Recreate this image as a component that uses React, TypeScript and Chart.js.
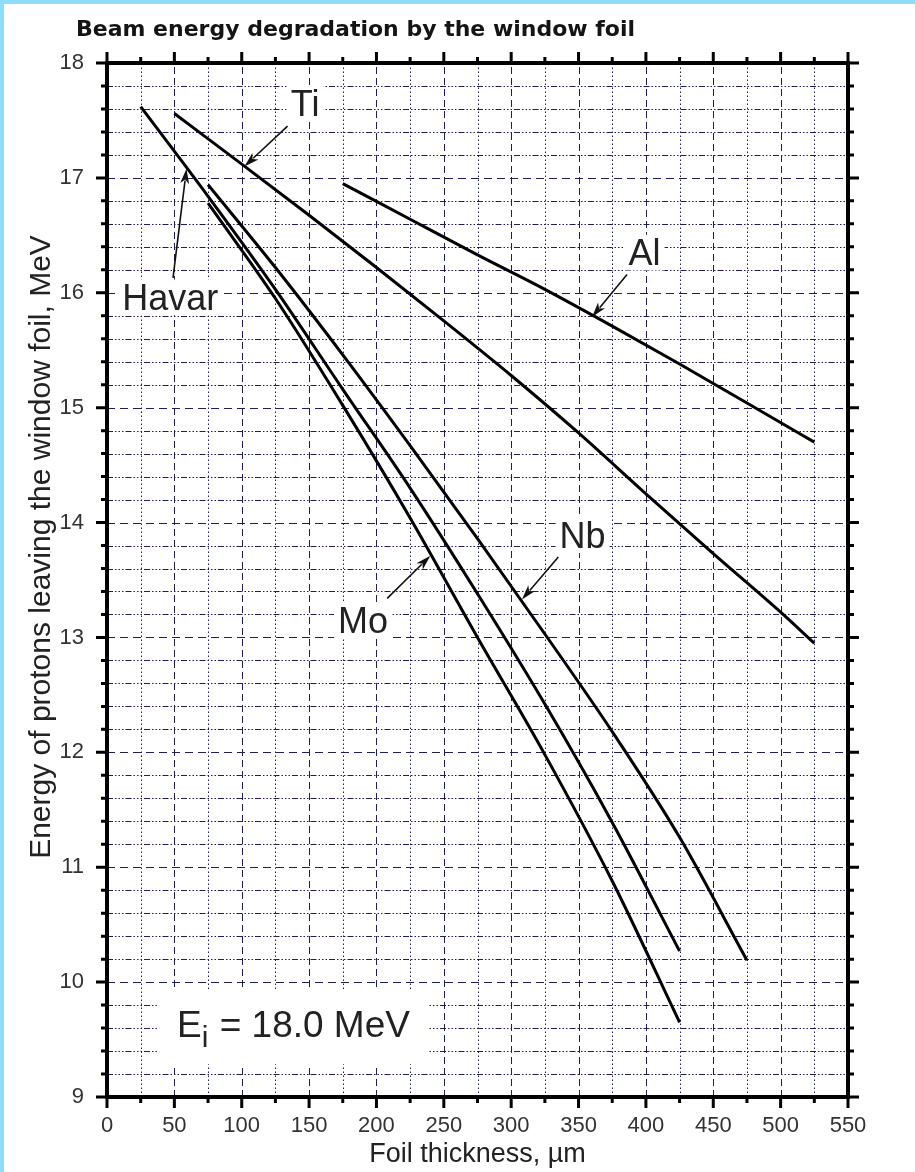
import React, { useEffect, useRef } from 'react';
import { Chart, registerables } from 'chart.js';

Chart.register(...registerables);

// ---- data (foil thickness in µm, exit energy in MeV) ----
const thicknessHavar = [25, 75, 125, 175, 225, 275, 325, 375, 425];
const energyHavar = [17.62, 16.84, 16.03, 15.16, 14.3, 13.38, 12.42, 11.39, 10.27];

const thicknessTi = [50, 100, 150, 200, 250, 300, 350, 400, 450, 500, 525];
const energyTi = [17.56, 17.12, 16.675, 16.22, 15.755, 15.28, 14.78, 14.25, 13.73, 13.22, 12.95];

const thicknessAl = [175, 225, 275, 325, 375, 425, 475, 525];
const energyAl = [16.95, 16.64, 16.33, 16.03, 15.71, 15.38, 15.04, 14.7];

const thicknessNb = [75, 125, 175, 225, 275, 325, 375, 425, 475];
const energyNb = [16.94, 16.22, 15.46, 14.67, 13.86, 13.03, 12.18, 11.26, 10.19];

const thicknessMo = [75, 125, 175, 225, 275, 325, 375, 425];
const energyMo = [16.78, 15.95, 15.02, 14.04, 13.0, 11.98, 10.88, 9.65];

// curve labels (data coordinates) and their arrows
const labelNames = ['Ti', 'Havar', 'Al', 'Nb', 'Mo'];
const labelThickness = [147, 47, 399, 353, 190];
const labelEnergy = [17.65, 15.96, 16.35, 13.89, 13.15];
const arrowFromThickness = [134, 49, 386, 335, 208];
const arrowFromEnergy = [17.45, 16.13, 16.16, 13.7, 13.34];
const arrowToThickness = [102, 59, 360, 308, 240];
const arrowToEnergy = [17.1, 17.08, 15.79, 13.33, 13.71];

const noteThickness = 52;
const noteEnergy = 9.52;
const noteMain = 'E';
const noteSub = 'i';
const noteRest = ' = 18.0 MeV';

const chartTitle = 'Beam energy degradation by the window foil';
const xTitle = 'Foil thickness, µm';
const yTitle = 'Energy of protons leaving the window foil, MeV';
const xMin = 0;
const xMax = 550;
const xStep = 25;
const xLabelStep = 50;
const yMin = 9;
const yMax = 18;
const yStep = 0.2;

const FONT = '"Liberation Sans", Arial, sans-serif';
const GRID = '#1f1f58';

const isInt = (v: number) => Math.abs(v - Math.round(v)) < 1e-6;
const isXMajor = (v: number) => Math.abs(v / xLabelStep - Math.round(v / xLabelStep)) < 1e-6;

function drawArrow(ctx: CanvasRenderingContext2D, x1: number, y1: number, x2: number, y2: number) {
  const ang = Math.atan2(y2 - y1, x2 - x1);
  const headLen = 15;
  const headW = 4.5;
  const c = Math.cos(ang);
  const s = Math.sin(ang);
  const bx = x2 - headLen * c;
  const by = y2 - headLen * s;
  ctx.save();
  ctx.strokeStyle = '#111';
  ctx.fillStyle = '#111';
  ctx.lineWidth = 1.6;
  ctx.setLineDash([]);
  ctx.beginPath();
  ctx.moveTo(x1, y1);
  ctx.lineTo(bx + 3 * c, by + 3 * s);
  ctx.stroke();
  ctx.beginPath();
  ctx.moveTo(x2, y2);
  ctx.lineTo(bx - headW * s, by + headW * c);
  ctx.lineTo(bx + 4 * c, by + 4 * s);
  ctx.lineTo(bx + headW * s, by - headW * c);
  ctx.closePath();
  ctx.fill();
  ctx.restore();
}

const decorPlugin = {
  id: 'decor',
  beforeDatasetsDraw(chart: any) {
    const { ctx, chartArea: a } = chart;
    const xs = chart.scales.x;
    const ys = chart.scales.y;
    ctx.save();
    ctx.lineWidth = 1;
    ctx.strokeStyle = GRID;
    // vertical grid
    xs.ticks.forEach((t: any) => {
      const px = Math.round(xs.getPixelForValue(t.value)) + 0.5;
      ctx.setLineDash(isXMajor(t.value) ? [7, 4] : [1.5, 2.5]);
      ctx.beginPath();
      ctx.moveTo(px, a.bottom);
      ctx.lineTo(px, a.top);
      ctx.stroke();
    });
    // horizontal grid
    ys.ticks.forEach((t: any) => {
      const py = Math.round(ys.getPixelForValue(t.value)) + 0.5;
      ctx.setLineDash(isInt(t.value) ? [8, 5] : [6, 2, 1.5, 2, 1.5, 2, 1.5, 2]);
      ctx.beginPath();
      ctx.moveTo(a.left, py);
      ctx.lineTo(a.right, py);
      ctx.stroke();
    });
    ctx.setLineDash([]);

    // curve labels with white background
    ctx.font = `36px ${FONT}`;
    ctx.textAlign = 'center';
    ctx.textBaseline = 'alphabetic';
    const cap = 36 * 0.716;
    labelNames.forEach((name, i) => {
      const cx = xs.getPixelForValue(labelThickness[i]);
      const cy = ys.getPixelForValue(labelEnergy[i]);
      const w = ctx.measureText(name).width;
      const base = cy + cap / 2;
      ctx.fillStyle = '#fff';
      ctx.fillRect(cx - w / 2 - 4, base - cap - 5, w + 8, cap + 10);
      ctx.fillStyle = '#222';
      ctx.fillText(name, cx, base);
    });

    // E_i note
    const nx = xs.getPixelForValue(noteThickness);
    const nb = ys.getPixelForValue(noteEnergy);
    ctx.textAlign = 'left';
    ctx.font = `37px ${FONT}`;
    const wE = ctx.measureText(noteMain).width;
    ctx.font = `30px ${FONT}`;
    const wi = ctx.measureText(noteSub).width;
    ctx.font = `37px ${FONT}`;
    const wR = ctx.measureText(noteRest).width;
    const total = wE + wi + 1 + wR;
    ctx.fillStyle = '#fff';
    ctx.fillRect(nx - 18, nb - 47, total + 36, 74);
    ctx.fillStyle = '#222';
    ctx.fillText(noteMain, nx, nb);
    ctx.font = `30px ${FONT}`;
    ctx.fillText(noteSub, nx + wE, nb + 10);
    ctx.font = `37px ${FONT}`;
    ctx.fillText(noteRest, nx + wE + wi + 1, nb);
    ctx.restore();
  },
  afterDatasetsDraw(chart: any) {
    const { ctx, chartArea: a } = chart;
    const xs = chart.scales.x;
    const ys = chart.scales.y;
    ctx.save();
    // arrows
    labelNames.forEach((_, i) => {
      drawArrow(
        ctx,
        xs.getPixelForValue(arrowFromThickness[i]),
        ys.getPixelForValue(arrowFromEnergy[i]),
        xs.getPixelForValue(arrowToThickness[i]),
        ys.getPixelForValue(arrowToEnergy[i])
      );
    });
    // frame
    ctx.strokeStyle = '#000';
    ctx.lineWidth = 4;
    ctx.setLineDash([]);
    ctx.strokeRect(a.left, a.top, a.right - a.left, a.bottom - a.top);
    // outward ticks
    ctx.lineWidth = 3;
    xs.ticks.forEach((t: any) => {
      const px = xs.getPixelForValue(t.value);
      const len = isXMajor(t.value) ? 11 : 6;
      ctx.beginPath();
      ctx.moveTo(px, a.bottom);
      ctx.lineTo(px, a.bottom + len);
      ctx.moveTo(px, a.top);
      ctx.lineTo(px, a.top - len);
      ctx.stroke();
    });
    ys.ticks.forEach((t: any) => {
      const py = ys.getPixelForValue(t.value);
      const len = isInt(t.value) ? 11 : 6;
      ctx.beginPath();
      ctx.moveTo(a.left, py);
      ctx.lineTo(a.left - len, py);
      ctx.moveTo(a.right, py);
      ctx.lineTo(a.right + len, py);
      ctx.stroke();
    });
    // chart title
    ctx.font = 'bold 22px "DejaVu Sans", Verdana, sans-serif';
    ctx.fillStyle = '#141414';
    ctx.textAlign = 'left';
    ctx.textBaseline = 'alphabetic';
    ctx.fillText(chartTitle, 76, 36);
    // y axis title (rotated)
    ctx.save();
    ctx.translate(42, 547);
    ctx.rotate(-Math.PI / 2);
    ctx.font = `30px ${FONT}`;
    ctx.fillStyle = '#222';
    ctx.textAlign = 'center';
    ctx.textBaseline = 'middle';
    ctx.fillText(yTitle, 0, 0);
    ctx.restore();
    ctx.restore();
  },
};

const makeSeries = (xs: number[], ys: number[]) => xs.map((x, i) => ({ x, y: ys[i] }));

export default function App() {
  const ref = useRef<HTMLCanvasElement>(null);

  useEffect(() => {
    document.body.style.margin = '0';
    const canvas = ref.current;
    if (!canvas) return;
    const series = [
      ['Havar', thicknessHavar, energyHavar],
      ['Ti', thicknessTi, energyTi],
      ['Al', thicknessAl, energyAl],
      ['Nb', thicknessNb, energyNb],
      ['Mo', thicknessMo, energyMo],
    ] as [string, number[], number[]][];
    const chart = new Chart(canvas, {
      type: 'line',
      data: {
        datasets: series.map(([label, t, e]) => ({
          label,
          data: makeSeries(t, e),
          borderColor: '#000',
          borderWidth: 3,
          pointRadius: 0,
          fill: false,
          cubicInterpolationMode: 'monotone' as const,
        })),
      },
      options: {
        responsive: false,
        animation: false,
        devicePixelRatio: 1,
        layout: { padding: { top: 63, right: 67, left: 0, bottom: 0 } },
        plugins: { legend: { display: false }, tooltip: { enabled: false }, title: { display: false } },
        scales: {
          x: {
            type: 'linear',
            position: 'bottom',
            min: xMin,
            max: xMax,
            grid: { display: false },
            border: { display: false },
            ticks: {
              stepSize: xStep,
              autoSkip: false,
              maxRotation: 0,
              padding: 8,
              color: '#333',
              font: { family: FONT, size: 22 },
              callback: (v: any) => (isXMajor(Number(v)) ? String(Math.round(Number(v))) : ''),
            },
            title: {
              display: true,
              text: xTitle,
              color: '#222',
              font: { family: FONT, size: 27 },
              padding: { top: 0, bottom: 1 },
            },
            afterFit: (s: any) => {
              s.height = 75;
            },
          },
          y: {
            type: 'linear',
            min: yMin,
            max: yMax,
            grid: { display: false },
            border: { display: false },
            ticks: {
              stepSize: yStep,
              autoSkip: false,
              padding: 15,
              color: '#333',
              font: { family: FONT, size: 22 },
              callback: (v: any) => (isInt(Number(v)) ? String(Math.round(Number(v))) : ''),
            },
            title: { display: false, text: yTitle },
            afterFit: (s: any) => {
              s.width = 107;
            },
          },
        },
      },
      plugins: [decorPlugin],
    });
    return () => chart.destroy();
  }, []);

  return (
    <div style={{ position: 'absolute', left: 0, top: 0, width: 915, height: 1172, background: '#fff', overflow: 'hidden' }}>
      <div style={{ position: 'absolute', left: 0, top: 0, width: 915, height: 4, background: '#8fdcfc' }} />
      <div style={{ position: 'absolute', left: 0, top: 0, width: 4, height: 1172, background: '#8fdcfc' }} />
      <canvas ref={ref} width={915} height={1172} style={{ position: 'absolute', left: 0, top: 0 }} />
    </div>
  );
}
